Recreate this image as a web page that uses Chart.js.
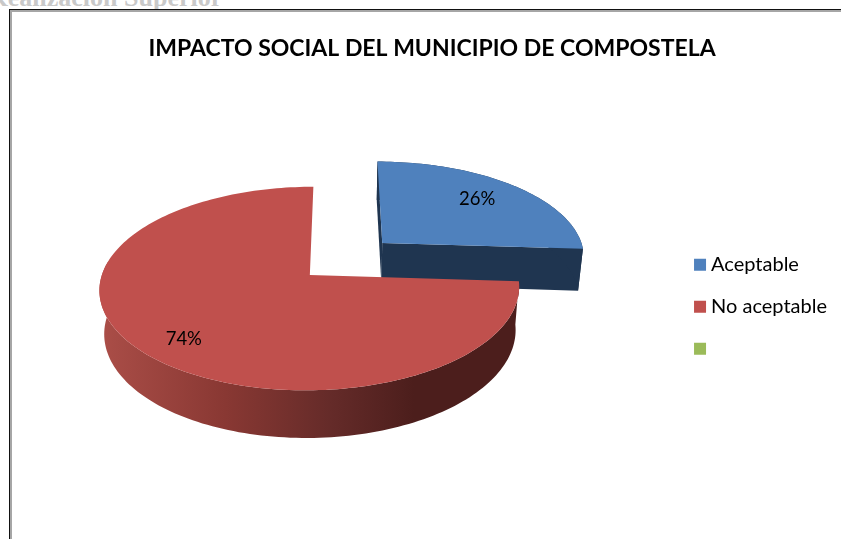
<!DOCTYPE html>
<html>
<head>
<meta charset="utf-8">
<title>Impacto social</title>
<script src="https://cdn.jsdelivr.net/npm/chart.js@4"></script>
<style>
  html, body { margin: 0; padding: 0; background: #fff; overflow: hidden; }
  #page { position: relative; width: 841px; height: 539px; overflow: hidden; }
  #heading { position: absolute; left: -11px; top: -17px; font: bold 26px "Liberation Serif", serif; color: #c9c9c9; white-space: nowrap; }
  #frame { position: absolute; left: 9px; top: 9px; width: 840px; height: 540px; border-left: 1px solid #111; border-top: 1px solid #111; box-shadow: inset 2px 2px 0 #a6a6a6; }
  canvas { position: absolute; left: 0; top: 0; }
</style>
</head>
<body>
<div id="page">
  <div id="heading">Realización Superior</div>
  <div id="frame"></div>
  <canvas id="pie" width="841" height="539"></canvas>
</div>
<script>
const categories = ['Aceptable', 'No aceptable', ''];
const percentages = [26, 74, 0];
const sliceColors = ['#4f81bd', '#c0504d', '#9bbb59'];
const titleText = 'IMPACTO SOCIAL DEL MUNICIPIO DE COMPOSTELA';

// how far each slice is pulled out, in radii
const explode = [0.49, 0, 0];

// perspective view of the pie, Chart.js only knows flat ones
const view = { cx: 340, cy: 275, rx: 208, ry: 100, tilt: 0.133, offsetX: -0.145, depth: 43, bottomX: 0.98, bottomY: 1.04 };

function project(x, y, bottom) {
    const w = 1 - view.tilt * y;
    const px = view.rx * (x + view.offsetX) / w;
    const py = view.ry * y / w;
    if (bottom) return [view.cx + px * view.bottomX, view.cy + view.depth + py * view.bottomY];
    return [view.cx + px, view.cy + py];
}

function sliceCentre(arc, i) {
    const mid = (arc.startAngle + arc.endAngle) / 2;
    return [Math.cos(mid) * explode[i], Math.sin(mid) * explode[i]];
}

function rimPoints(arc, i, bottom, frontOnly) {
    const c = sliceCentre(arc, i);
    const pts = [];
    const steps = Math.ceil((arc.endAngle - arc.startAngle) * 40);
    for (let s = 0; s <= steps; s++) {
        const a = arc.startAngle + (arc.endAngle - arc.startAngle) * s / steps;
        if (frontOnly && Math.sin(a) < -0.15) continue;
        pts.push(project(c[0] + Math.cos(a), c[1] + Math.sin(a), bottom));
    }
    return pts;
}

function fillPoly(ctx, pts, fill) {
    ctx.beginPath();
    pts.forEach((p, n) => n ? ctx.lineTo(p[0], p[1]) : ctx.moveTo(p[0], p[1]));
    ctx.closePath();
    ctx.fillStyle = fill;
    ctx.fill();
}

function wallFill(ctx, i) {
    if (i === 0) return '#1f3550';
    const g = ctx.createLinearGradient(99, 0, 519, 0);
    g.addColorStop(0, '#ab4e48');
    g.addColorStop(0.3, '#893833');
    g.addColorStop(0.55, '#652b29');
    g.addColorStop(0.75, '#4c1e1c');
    g.addColorStop(1, '#4c1e1c');
    return g;
}

const pie3d = {
    id: 'pie3d',
    beforeDatasetsDraw(chart) {
        const ctx = chart.ctx;
        const arcs = chart.getDatasetMeta(0).data;
        arcs.forEach((arc, i) => {
            if (percentages[i] === 0) return;
            const c = sliceCentre(arc, i);
            const top = rimPoints(arc, i, false);
            const bot = rimPoints(arc, i, true);
            const hubTop = project(c[0], c[1], false);
            const hubBot = project(c[0], c[1], true);
            const wall = wallFill(ctx, i);
            // the big slice only shows its front wall, the small one its cut faces too
            if (i === 0) {
                fillPoly(ctx, [hubTop, top[0], bot[0], hubBot], wall);
                fillPoly(ctx, [hubTop, top[top.length - 1], bot[bot.length - 1], hubBot], wall);
                fillPoly(ctx, top.concat(bot.slice().reverse()), wall);
            } else {
                const frontTop = rimPoints(arc, i, false, true);
                const frontBot = rimPoints(arc, i, true, true);
                fillPoly(ctx, frontTop.concat(frontBot.reverse()), wall);
            }
            fillPoly(ctx, [hubTop].concat(top), sliceColors[i]);
        });
        ctx.fillStyle = '#000';
        ctx.font = '18.5px Lato';
        ctx.textAlign = 'center';
        ctx.textBaseline = 'middle';
        arcs.forEach((arc, i) => {
            if (percentages[i] === 0) return;
            const c = sliceCentre(arc, i);
            const mid = (arc.startAngle + arc.endAngle) / 2;
            const nudge = i === 1 ? [0, 0.08] : [-0.025, 0];
            const p = project(c[0] + Math.cos(mid) * 0.75 + nudge[0], c[1] + Math.sin(mid) * 0.75 + nudge[1], false);
            ctx.fillText(percentages[i] + '%', p[0], p[1]);
        });
        return false;
    }
};

new Chart(document.getElementById('pie'), {
    type: 'pie',
    data: {
        labels: categories,
        datasets: [{ data: percentages, backgroundColor: sliceColors, borderWidth: 0 }]
    },
    options: {
        responsive: false,
        animation: false,
        devicePixelRatio: 1,
        layout: { padding: { left: 27, right: 4, top: 0, bottom: 10 } },
        plugins: {
            title: {
                display: true,
                text: titleText,
                color: '#000',
                font: { family: 'Lato', size: 23, weight: 'bold' },
                padding: { top: 35, bottom: 22 }
            },
            legend: {
                position: 'right',
                fullSize: false,
                labels: {
                    color: '#000',
                    font: { family: 'Lato', size: 20 },
                    usePointStyle: true,
                    pointStyle: 'rect',
                    boxWidth: 2,
                    boxHeight: 12,
                    padding: 22
                }
            },
            tooltip: { enabled: false }
        }
    },
    plugins: [pie3d]
});
</script>
</body>
</html>
